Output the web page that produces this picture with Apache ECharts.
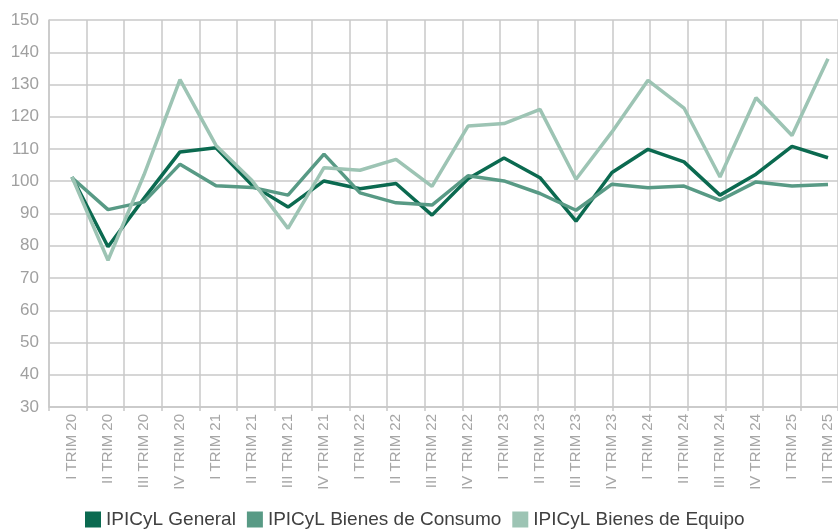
<!DOCTYPE html>
<html>
<head>
<meta charset="utf-8">
<script src="https://cdn.jsdelivr.net/npm/echarts@6/dist/echarts.min.js"></script>
<style>
  html, body { margin: 0; padding: 0; background: #fff; }
  #chart { width: 838px; height: 532px; }
</style>
</head>
<body>
<div id="chart"></div>
<script>
// trimestres
var categories = ['I TRIM 20', 'II TRIM 20', 'III TRIM 20', 'IV TRIM 20',
  'I TRIM 21', 'II TRIM 21', 'III TRIM 21', 'IV TRIM 21',
  'I TRIM 22', 'II TRIM 22', 'III TRIM 22', 'IV TRIM 22',
  'I TRIM 23', 'II TRIM 23', 'III TRIM 23', 'IV TRIM 23',
  'I TRIM 24', 'II TRIM 24', 'III TRIM 24', 'IV TRIM 24',
  'I TRIM 25', 'II TRIM 25'];

var general = [101.3, 79.7, 94.7, 109.1, 110.4, 98.8, 92.0, 100.1, 97.7, 99.3, 89.5,
  100.8, 107.2, 101.1, 87.6, 102.7, 109.9, 106.0, 95.7, 102.2, 110.8, 107.3];
var consumo = [101.1, 91.2, 93.6, 105.3, 98.6, 98.1, 95.7, 108.4, 96.4, 93.3, 92.6,
  101.7, 100.1, 96.2, 91.0, 99.1, 98.0, 98.5, 94.1, 99.8, 98.5, 99.0];
var equipo = [101.3, 75.5, 102.0, 131.5, 111.1, 100.2, 85.4, 104.2, 103.4, 106.8, 98.4,
  117.1, 117.9, 122.3, 100.6, 115.3, 131.3, 122.7, 101.3, 125.9, 114.2, 138.0];

var yTicks = { min: 30, max: 150, interval: 10 };

var colores = ['#0b6a50', '#589a85', '#9dc4b4'];
var gris = '#c8c8c8';

var myChart = echarts.init(document.getElementById('chart'));
var option = {
  color: colores,
  textStyle: { fontFamily: 'Liberation Sans, Arial, sans-serif' },
  legend: {
    bottom: -2,
    left: 80,
    icon: 'rect',
    itemWidth: 16,
    itemHeight: 16,
    itemGap: 11,
    textStyle: { fontSize: 19, color: '#404040', fontFamily: 'Liberation Sans, Arial, sans-serif' },
    data: ['IPICyL General', 'IPICyL Bienes de Consumo', 'IPICyL Bienes de Equipo']
  },
  grid: [
    { left: 49, width: 798, top: 20, bottom: 125 },
    { left: 72, right: 10, top: 20, bottom: 125 }
  ],
  xAxis: [
    {
      // solo para la rejilla vertical
      gridIndex: 0, type: 'value', min: 0, max: 21, interval: 1,
      axisLine: { show: true, lineStyle: { color: gris, width: 1.5 } },
      axisTick: { show: true, length: 4, lineStyle: { color: gris, width: 1.5 } },
      axisLabel: { show: false },
      splitLine: { show: true, lineStyle: { color: gris, width: 1.5 } }
    },
    {
      gridIndex: 1, type: 'category', boundaryGap: false, data: categories,
      axisLine: { show: false },
      axisTick: { show: false },
      splitLine: { show: false },
      axisLabel: { rotate: 90, interval: 0, margin: 7, fontSize: 15, color: '#a6a6a6' }
    }
  ],
  yAxis: [
    {
      gridIndex: 0, type: 'value', min: yTicks.min, max: yTicks.max, interval: yTicks.interval,
      axisLine: { show: true, lineStyle: { color: gris, width: 1.5 } },
      axisTick: { show: false },
      axisLabel: { fontSize: 17, color: '#a0a0a0', margin: 10 },
      splitLine: { show: true, lineStyle: { color: gris, width: 1.5 } }
    },
    {
      gridIndex: 1, type: 'value', min: yTicks.min, max: yTicks.max, interval: yTicks.interval,
      show: false, splitLine: { show: false }
    }
  ],
  series: [
    { name: 'IPICyL General', type: 'line', xAxisIndex: 1, yAxisIndex: 1, data: general,
      symbol: 'none', lineStyle: { width: 3.5 } },
    { name: 'IPICyL Bienes de Consumo', type: 'line', xAxisIndex: 1, yAxisIndex: 1, data: consumo,
      symbol: 'none', lineStyle: { width: 3.5 } },
    { name: 'IPICyL Bienes de Equipo', type: 'line', xAxisIndex: 1, yAxisIndex: 1, data: equipo,
      symbol: 'none', lineStyle: { width: 3.5 } }
  ]
};
myChart.setOption(option);
</script>
</body>
</html>
